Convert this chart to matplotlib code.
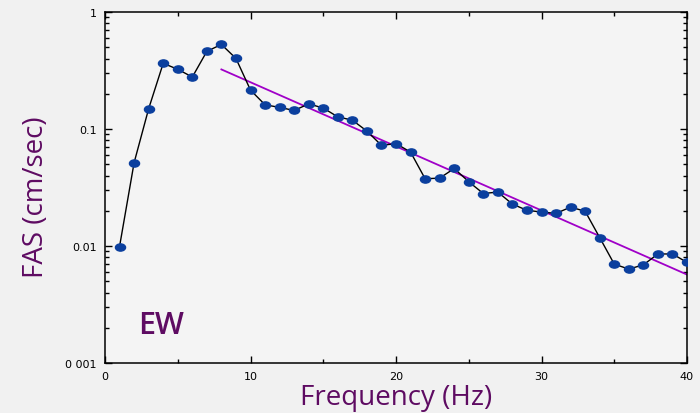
import numpy as np
import matplotlib
matplotlib.use('Agg')
import matplotlib.pyplot as plt
from matplotlib.markers import MarkerStyle
from matplotlib.transforms import Affine2D
from matplotlib.ticker import FixedLocator, LogLocator, NullFormatter, MultipleLocator

# Fourier amplitude spectrum, EW component
freq = list(range(1, 41))
fas = [0.0099, 0.0515, 0.149, 0.364, 0.324, 0.278, 0.461, 0.528, 0.401, 0.215,
       0.161, 0.153, 0.144, 0.164, 0.151, 0.127, 0.119, 0.096, 0.0725, 0.075,
       0.0635, 0.0376, 0.038, 0.046, 0.0354, 0.0281, 0.0289, 0.0228, 0.0202, 0.0195,
       0.019, 0.0215, 0.0198, 0.0118, 0.0070, 0.00635, 0.0069, 0.00855, 0.00855, 0.00725]

# fitted decay line
fit_freq = [8, 40]
fit_fas = [0.323, 0.0057]

yticks = [0.001, 0.01, 0.1, 1]
ytick_labels = ['0 001', '0.01', '0.1', '1']
xticks = [0, 10, 20, 30, 40]

purple = '#5e0b62'
bg = '#f1f1f1'

plt.rcParams['font.family'] = ['Open Sans', 'DejaVu Sans']

fig = plt.figure(figsize=(7, 4.14), dpi=100, facecolor=bg)
ax = fig.add_axes([105/700, 1 - 364/414, 582/700, 351/414])
ax.set_facecolor('#f4f4f4')

ell = MarkerStyle('o', transform=Affine2D().scale(1.4, 1.0))
ax.plot(freq, fas, color='black', lw=1, marker=ell, ms=5.2,
        mfc='#0b3f9e', mec='#0b3f9e', zorder=3)
ax.plot(fit_freq, fit_fas, color='#a000c8', lw=1.3, zorder=2)

ax.set_yscale('log')
ax.set_xlim(0, 40)
ax.set_ylim(0.001, 1)

ax.yaxis.set_major_locator(FixedLocator(yticks))
ax.set_yticklabels(ytick_labels)
ax.yaxis.set_minor_locator(LogLocator(base=10, subs=np.arange(2, 10)))
ax.yaxis.set_minor_formatter(NullFormatter())
ax.set_xticks(xticks)
ax.xaxis.set_minor_locator(MultipleLocator(5))

ax.tick_params(which='both', direction='in', top=True, right=True,
               labelsize=8, colors='black', width=1, pad=6,
               labelfontfamily='DejaVu Sans')
ax.tick_params(which='major', length=5)
ax.tick_params(which='minor', length=3)
for s in ax.spines.values():
    s.set_linewidth(1.1)

ax.set_xlabel('Frequency (Hz)', fontsize=20, color=purple, labelpad=1)
ax.set_ylabel('FAS (cm/sec)', fontsize=20, color=purple)
ax.yaxis.set_label_coords(-0.094, 0.475)

ax.text(2.25, 0.0021, 'EW', fontsize=22, color=purple, va='center', ha='left',
        fontweight='semibold')

fig.savefig('out.png', dpi=100, facecolor=bg)
